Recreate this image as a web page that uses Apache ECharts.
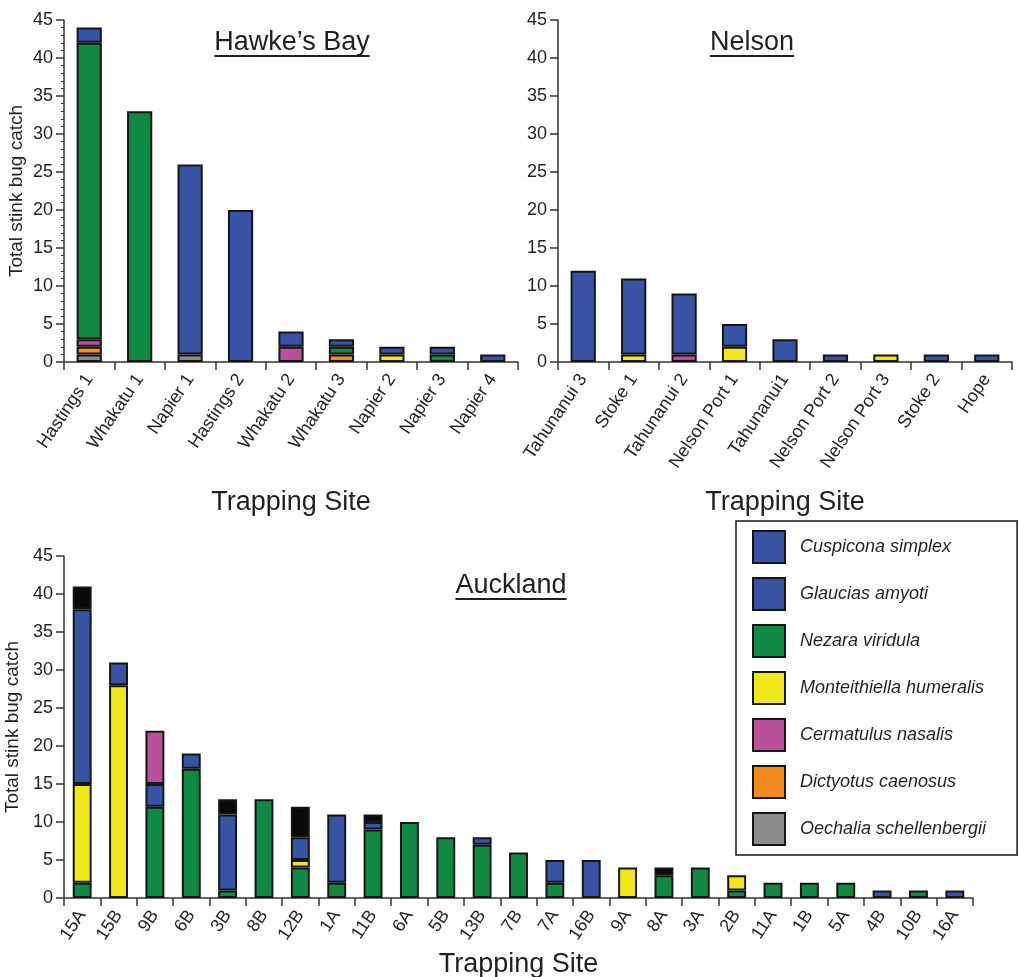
<!DOCTYPE html>
<html>
<head>
<meta charset="utf-8">
<script src="https://cdn.jsdelivr.net/npm/echarts@6/dist/echarts.min.js"></script>
<style>
  html, body { margin: 0; padding: 0; background: #fff; }
  #chart { width: 1019px; height: 977px; }
</style>
</head>
<body>
<div id="chart"></div>
<script>
// ---- Hawke's Bay trap catches ----
const hbSites = ['Hastings 1', 'Whakatu 1', 'Napier 1', 'Hastings 2', 'Whakatu 2', 'Whakatu 3', 'Napier 2', 'Napier 3', 'Napier 4'];
const hbOechalia      = [1, 0, 1, 0, 0, 0, 0, 0, 0];
const hbDictyotus     = [1, 0, 0, 0, 0, 1, 0, 0, 0];
const hbCermatulus    = [1, 0, 0, 0, 2, 0, 0, 0, 0];
const hbNezara        = [39, 33, 0, 0, 0, 1, 0, 1, 0];
const hbMonteithiella = [0, 0, 0, 0, 0, 0, 1, 0, 0];
const hbCuspicona     = [2, 0, 25, 20, 2, 1, 1, 1, 1];

// ---- Nelson trap catches ----
const nelSites = ['Tahunanui 3', 'Stoke 1', 'Tahunanui 2', 'Nelson Port 1', 'Tahunanui1', 'Nelson Port 2', 'Nelson Port 3', 'Stoke 2', 'Hope'];
const nelMonteithiella = [0, 1, 0, 2, 0, 0, 1, 0, 0];
const nelCermatulus    = [0, 0, 1, 0, 0, 0, 0, 0, 0];
const nelCuspicona     = [12, 10, 8, 3, 3, 1, 0, 1, 1];

// ---- Auckland trap catches ----
const akSites = ['15A', '15B', '9B', '6B', '3B', '8B', '12B', '1A', '11B', '6A', '5B', '13B', '7B', '7A', '16B', '9A', '8A', '3A', '2B', '11A', '1B', '5A', '4B', '10B', '16A'];
const akNezara        = [2, 0, 12, 17, 1, 13, 4, 2, 9, 10, 8, 7, 6, 2, 0, 0, 3, 4, 1, 2, 2, 2, 0, 1, 0];
const akMonteithiella = [13, 28, 0, 0, 0, 0, 1, 0, 0, 0, 0, 0, 0, 0, 0, 4, 0, 0, 2, 0, 0, 0, 0, 0, 0];
const akCuspicona     = [23, 3, 3, 2, 10, 0, 3, 9, 1, 0, 0, 1, 0, 3, 5, 0, 0, 0, 0, 0, 0, 0, 1, 0, 1];
const akCermatulus    = [0, 0, 7, 0, 0, 0, 0, 0, 0, 0, 0, 0, 0, 0, 0, 0, 0, 0, 0, 0, 0, 0, 0, 0, 0];
const akGlaucias      = [3, 0, 0, 0, 2, 0, 4, 0, 1, 0, 0, 0, 0, 0, 0, 0, 1, 0, 0, 0, 0, 0, 0, 0, 0];

// y-axis ticks shared by the three panels
const yTicks = [0, 5, 10, 15, 20, 25, 30, 35, 40, 45];

const speciesNames = ['Cuspicona simplex', 'Glaucias amyoti', 'Nezara viridula', 'Monteithiella humeralis',
  'Cermatulus nasalis', 'Dictyotus caenosus', 'Oechalia schellenbergii'];

const COLORS = {
  'Cuspicona simplex': '#3953a4',
  'Glaucias amyoti': '#0a0a0a',
  'Nezara viridula': '#108a43',
  'Monteithiella humeralis': '#f0e81b',
  'Cermatulus nasalis': '#b8509c',
  'Dictyotus caenosus': '#f58a1f',
  'Oechalia schellenbergii': '#8c8c8c'
};

const FONT = "'Liberation Sans', Arial, Helvetica, sans-serif";
const INK = '#231f20';
const AXIS = '#333333';
const EDGE = '#161616';

const chart = echarts.init(document.getElementById('chart'), null, { renderer: 'canvas' });

function seg(name, values, idx, stack, barWidth) {
  return {
    name: name,
    type: 'bar',
    stack: stack,
    xAxisIndex: idx,
    yAxisIndex: idx,
    barWidth: barWidth,
    data: values.map(v => (v === 0 ? '-' : v)),
    itemStyle: { color: COLORS[name], borderColor: EDGE, borderWidth: 2 },
    emphasis: { disabled: true }
  };
}

function xAxisFor(idx, sites, nameGap) {
  return {
    type: 'category',
    gridIndex: idx,
    data: sites,
    name: 'Trapping Site',
    nameLocation: 'middle',
    nameGap: nameGap,
    nameTextStyle: { fontFamily: FONT, fontSize: 27, color: INK },
    axisLine: { show: true, lineStyle: { color: AXIS, width: 1.5 } },
    axisTick: { show: true, length: 8, lineStyle: { color: AXIS, width: 1.5 } },
    axisLabel: { rotate: 56, fontFamily: FONT, fontSize: 18, color: INK, margin: 14, interval: 0 },
    splitLine: { show: false }
  };
}

function yAxisFor(idx, name, nameGap, minor) {
  return {
    type: 'value',
    gridIndex: idx,
    min: yTicks[0],
    max: yTicks[yTicks.length - 1],
    interval: yTicks[1] - yTicks[0],
    name: name,
    nameLocation: 'middle',
    nameGap: nameGap,
    nameTextStyle: { fontFamily: FONT, fontSize: 19, color: INK },
    axisLine: { show: true, lineStyle: { color: AXIS, width: 1.5 } },
    axisTick: { show: true, length: 8, lineStyle: { color: AXIS, width: 1.5 } },
    minorTick: { show: minor, splitNumber: 5, length: 3, lineStyle: { color: AXIS, width: 1 } },
    axisLabel: { fontFamily: FONT, fontSize: 18, color: INK, margin: 11 },
    splitLine: { show: false }
  };
}

// panel headings with an underline sized to the measured text
const measureCtx = document.createElement('canvas').getContext('2d');
function heading(text, cx, cy, underlineY) {
  measureCtx.font = '27px ' + FONT;
  const w = measureCtx.measureText(text).width;
  return [
    {
      type: 'text', x: cx, y: cy, silent: true,
      style: { text: text, fontFamily: FONT, fontSize: 27, fill: INK, align: 'center', verticalAlign: 'middle' }
    },
    {
      type: 'line', silent: true,
      shape: { x1: cx - w / 2, y1: underlineY, x2: cx + w / 2, y2: underlineY },
      style: { stroke: INK, lineWidth: 2 }
    }
  ];
}

const yTitle = 'Total stink bug catch';

const option = {
  animation: false,
  backgroundColor: '#ffffff',
  grid: [
    { left: 64, top: 20, width: 454, height: 342, outerBoundsMode: 'none' },
    { left: 558, top: 20, width: 454, height: 342, outerBoundsMode: 'none' },
    { left: 64, top: 556, width: 909, height: 342, outerBoundsMode: 'none' }
  ],
  xAxis: [
    xAxisFor(0, hbSites, 127),
    xAxisFor(1, nelSites, 127),
    xAxisFor(2, akSites, 53)
  ],
  yAxis: [
    yAxisFor(0, yTitle, 38, true),
    yAxisFor(1, '', 38, false),
    yAxisFor(2, yTitle, 35, false)
  ],
  legend: {
    orient: 'vertical',
    left: 736,
    top: 521,
    padding: [9, 31, 9, 16],
    itemWidth: 32,
    itemHeight: 32,
    itemGap: 13,
    icon: 'rect',
    borderColor: EDGE,
    borderWidth: 1.5,
    selectedMode: false,
    itemStyle: { borderColor: EDGE, borderWidth: 2 },
    textStyle: { fontFamily: FONT, fontSize: 18, fontStyle: 'italic', color: INK, width: 200, padding: [0, 0, 0, 10] },
    data: speciesNames.map(n => ({ name: n, itemStyle: { color: n === 'Glaucias amyoti' ? COLORS['Cuspicona simplex'] : COLORS[n] } }))
  },
  graphic: [
    ...heading('Hawke\u2019s Bay', 292, 43, 56),
    ...heading('Nelson', 752, 43, 56),
    ...heading('Auckland', 511, 586, 599)
  ],
  series: [
    // Hawke's Bay, stacked bottom to top
    seg('Oechalia schellenbergii', hbOechalia, 0, 'hb', '50%'),
    seg('Dictyotus caenosus', hbDictyotus, 0, 'hb', '50%'),
    seg('Cermatulus nasalis', hbCermatulus, 0, 'hb', '50%'),
    seg('Nezara viridula', hbNezara, 0, 'hb', '50%'),
    seg('Monteithiella humeralis', hbMonteithiella, 0, 'hb', '50%'),
    seg('Cuspicona simplex', hbCuspicona, 0, 'hb', '50%'),
    // Nelson
    seg('Monteithiella humeralis', nelMonteithiella, 1, 'nel', '50%'),
    seg('Cermatulus nasalis', nelCermatulus, 1, 'nel', '50%'),
    seg('Cuspicona simplex', nelCuspicona, 1, 'nel', '50%'),
    // Auckland
    seg('Nezara viridula', akNezara, 2, 'ak', '52%'),
    seg('Monteithiella humeralis', akMonteithiella, 2, 'ak', '52%'),
    seg('Cuspicona simplex', akCuspicona, 2, 'ak', '52%'),
    seg('Cermatulus nasalis', akCermatulus, 2, 'ak', '52%'),
    seg('Glaucias amyoti', akGlaucias, 2, 'ak', '52%')
  ]
};

chart.setOption(option);
</script>
</body>
</html>
